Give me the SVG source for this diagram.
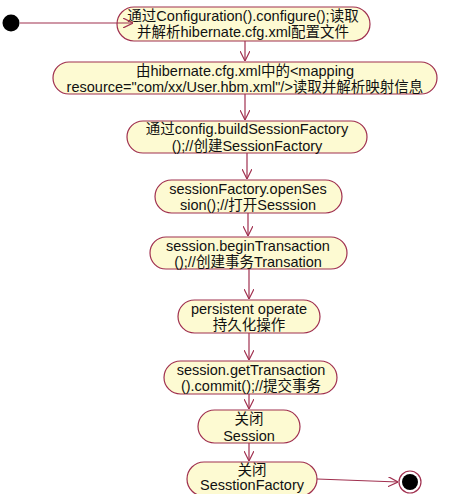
<svg xmlns="http://www.w3.org/2000/svg" width="449" height="494" viewBox="0 0 449 494">
<defs>
<style>
.n{fill:#FDFAD2;stroke:#A0304F;stroke-width:1.2}
.t{font-family:"Liberation Sans","Noto Sans CJK SC",sans-serif;font-size:14.5px;fill:#111;text-anchor:middle}
.c{stroke:#A0304F;stroke-width:1.2;fill:none}
</style>
<marker id="a" viewBox="0 0 10 10" refX="10" refY="5" markerWidth="10" markerHeight="10" markerUnits="userSpaceOnUse" orient="auto">
<path d="M0,0 L10,5 L0,10" fill="none" stroke="#A0304F" stroke-width="1.2"/>
</marker>
</defs>
<rect width="449" height="494" fill="#fff"/>
<g id="start"><circle cx="11" cy="23" r="8.5" fill="#000"/></g>
<g id="n1"><rect class="n" x="117" y="7" width="253" height="34" rx="17"/><text class="t" x="243" y="21">通过Configuration().configure();读取</text><text class="t" x="243" y="37">并解析hibernate.cfg.xml配置文件</text></g>
<g id="n2"><rect class="n" x="53" y="62" width="384" height="32" rx="16"/><text class="t" x="245" y="76">由hibernate.cfg.xml中的&lt;mapping</text><text class="t" x="245" y="92">resource="com/xx/User.hbm.xml"/&gt;读取并解析映射信息</text></g>
<g id="n3"><rect class="n" x="127" y="121" width="240" height="32" rx="16"/><text class="t" x="247" y="134">通过config.buildSessionFactory</text><text class="t" x="247" y="151">();//创建SessionFactory</text></g>
<g id="n4"><rect class="n" x="155" y="180" width="187" height="33" rx="16.5"/><text class="t" x="248" y="194">sessionFactory.openSes</text><text class="t" x="248" y="210">sion();//打开Sesssion</text></g>
<g id="n5"><rect class="n" x="150" y="237" width="197" height="32" rx="16"/><text class="t" x="248" y="251">session.beginTransaction</text><text class="t" x="248" y="267">();//创建事务Transation</text></g>
<g id="n6"><rect class="n" x="178" y="300" width="142" height="33" rx="16.5"/><text class="t" x="249" y="314">persistent operate</text><text class="t" x="249" y="330">持久化操作</text></g>
<g id="n7"><rect class="n" x="164" y="361" width="173" height="33" rx="16.5"/><text class="t" x="251" y="375">session.getTransaction</text><text class="t" x="251" y="391">().commit();//提交事务</text></g>
<g id="n8"><rect class="n" x="198" y="410" width="102" height="33" rx="16.5"/><text class="t" x="249" y="424">关闭</text><text class="t" x="249" y="441">Session</text></g>
<g id="n9"><rect class="n" x="187" y="462" width="130" height="34" rx="17"/><text class="t" x="252" y="475">关闭</text><text class="t" x="252" y="490">SesstionFactory</text></g>
<g id="end"><circle cx="410" cy="482" r="11" fill="#fff" stroke="#A0304F" stroke-width="1.2"/><circle cx="410" cy="482" r="8" fill="#000"/></g>
<g id="connectors">
<line class="c" x1="20" y1="23" x2="133" y2="23" marker-end="url(#a)"/>
<line class="c" x1="245" y1="41" x2="245" y2="61" marker-end="url(#a)"/>
<line class="c" x1="245" y1="94" x2="245" y2="120" marker-end="url(#a)"/>
<line class="c" x1="247" y1="153" x2="247" y2="179" marker-end="url(#a)"/>
<line class="c" x1="248" y1="213" x2="248" y2="236" marker-end="url(#a)"/>
<line class="c" x1="249" y1="269" x2="249" y2="299" marker-end="url(#a)"/>
<line class="c" x1="249" y1="333" x2="249" y2="360" marker-end="url(#a)"/>
<line class="c" x1="249" y1="394" x2="249" y2="409" marker-end="url(#a)"/>
<line class="c" x1="249" y1="443" x2="249" y2="461" marker-end="url(#a)"/>
<line class="c" x1="317" y1="479" x2="398" y2="482" marker-end="url(#a)"/>
</g>
</svg>
